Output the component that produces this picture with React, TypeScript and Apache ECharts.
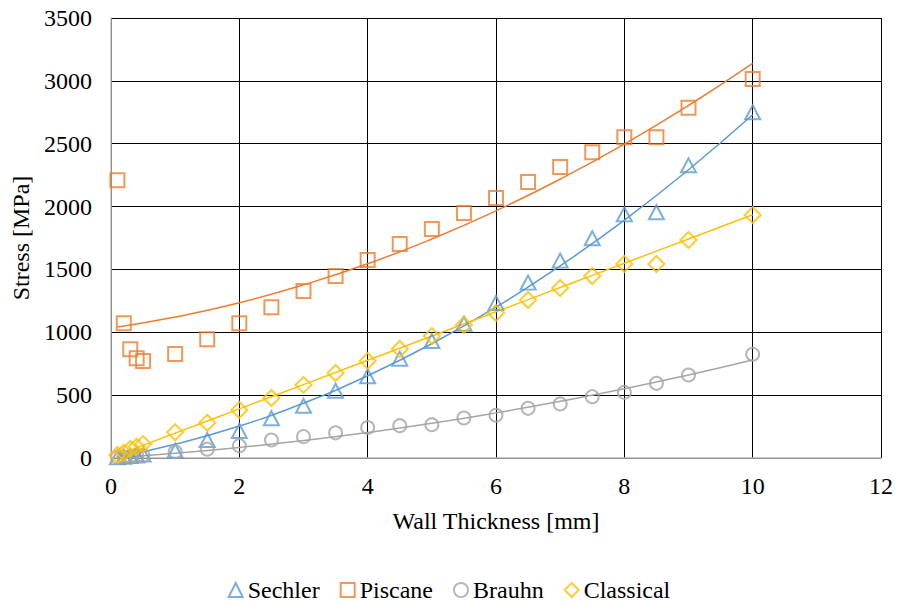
import React, { useEffect, useRef } from "react";
import * as echarts from "echarts";

const xValues = [0.1, 0.2, 0.3, 0.4, 0.5, 1, 1.5, 2, 2.5, 3, 3.5, 4, 4.5, 5, 5.5, 6, 6.5, 7, 7.5, 8, 8.5, 9, 10];
const sechler = [5, 10, 15, 20, 27, 58, 143, 215, 316, 415, 535, 650, 790, 930, 1068, 1233, 1395, 1570, 1748, 1938, 1955, 2328, 2750];
const piscane = [2210, 1071, 865, 793, 772, 827, 944, 1071, 1199, 1328, 1448, 1575, 1702, 1822, 1949, 2068, 2196, 2315, 2432, 2551, 2551, 2787, 3015];
const brauhn = [5, 8, 12, 15, 20, 50, 70, 98, 143, 170, 200, 242, 257, 265, 318, 340, 395, 430, 488, 522, 594, 660, 825];
const classical = [24, 42, 72, 90, 111, 205, 280, 382, 477, 581, 676, 772, 867, 970, 1058, 1153, 1257, 1352, 1448, 1543, 1543, 1734, 1933];

// trendline readings
const trendX = [0.1, 1, 2, 3, 4, 5, 6, 7, 8, 9, 10];
const sechlerTrend = [9, 109, 254, 436, 654, 909, 1200, 1528, 1892, 2293, 2730];
const piscaneTrend = [1042, 1121, 1235, 1377, 1545, 1742, 1966, 2218, 2497, 2804, 3139];
const brauhnTrend = [3, 37, 83, 139, 203, 276, 359, 451, 551, 661, 780];
const classicalTrend = [24, 198, 391, 584, 777, 970, 1163, 1356, 1549, 1742, 1935];

const xTicks = { min: 0, max: 12, interval: 2 };
const yTicks = { min: 0, max: 3500, interval: 500 };

const names = ["Sechler", "Piscane", "Brauhn", "Classical"];
const colors = ["#5B9BD5", "#ED7D31", "#A5A5A5", "#FFC000"];
const symbols = ["triangle", "rect", "circle", "diamond"];
const sizes: any[] = [[15, 14], 14, 13, 16];

const FONT = "'Liberation Serif', 'Times New Roman', serif";
const FS = 24;

export default function App() {
  const ref = useRef<HTMLDivElement>(null);
  useEffect(() => {
    if (!ref.current) return;
    const chart = echarts.init(ref.current, null, { renderer: "svg" });
    const pts = [sechler, piscane, brauhn, classical];
    const trends = [sechlerTrend, piscaneTrend, brauhnTrend, classicalTrend];
    const lineSeries = trends.map((t, i) => ({
      name: names[i] + " trend",
      type: "line",
      data: trendX.map((x, j) => [x, t[j]]),
      smooth: true,
      showSymbol: false,
      symbol: "none",
      lineStyle: { color: colors[i], width: 1.5 },
      itemStyle: { color: colors[i] },
      silent: true,
      z: 2,
    }));
    const scatterSeries = pts.map((p, i) => ({
      name: names[i],
      type: "scatter",
      data: xValues.map((x, j) => [x, p[j]]),
      symbol: symbols[i],
      symbolSize: sizes[i],
      itemStyle: { color: "rgba(0,0,0,0)", borderColor: colors[i], borderWidth: 2 },
      z: 3,
    }));
    chart.setOption({
      animation: false,
      backgroundColor: "#fff",
      textStyle: { fontFamily: FONT },
      grid: { left: 111, right: 17, top: 18, bottom: 144, containLabel: false },
      legend: {
        data: names,
        top: 573,
        left: "center",
        itemWidth: 14,
        itemHeight: 14,
        itemGap: 20,
        textStyle: { fontFamily: FONT, fontSize: FS, color: "#000" },
      },
      xAxis: {
        type: "value",
        ...xTicks,
        name: "Wall Thickness [mm]",
        nameLocation: "middle",
        nameGap: 51,
        nameTextStyle: { fontFamily: FONT, fontSize: FS, color: "#000" },
        axisLine: { show: true, lineStyle: { color: "#BFBFBF", width: 1.5 } },
        axisTick: { show: false },
        axisLabel: { fontFamily: FONT, fontSize: FS, color: "#000", margin: 16, formatter: (v: number) => String(v) },
        splitLine: { show: true, lineStyle: { color: "#000", width: 1 } },
      },
      yAxis: {
        type: "value",
        ...yTicks,
        name: "Stress [MPa]",
        nameLocation: "middle",
        nameGap: 74,
        nameTextStyle: { fontFamily: FONT, fontSize: FS, color: "#000" },
        axisLine: { show: true, lineStyle: { color: "#BFBFBF", width: 1.5 } },
        axisTick: { show: false },
        axisLabel: { fontFamily: FONT, fontSize: FS, color: "#000", margin: 19, formatter: (v: number) => String(v) },
        splitLine: { show: true, lineStyle: { color: "#000", width: 1 } },
      },
      series: [...lineSeries, ...scatterSeries],
    });
    return () => chart.dispose();
  }, []);
  return (
    <div
      ref={ref}
      style={{ position: "fixed", left: 0, top: 0, width: 898, height: 602, background: "#fff" }}
    />
  );
}
